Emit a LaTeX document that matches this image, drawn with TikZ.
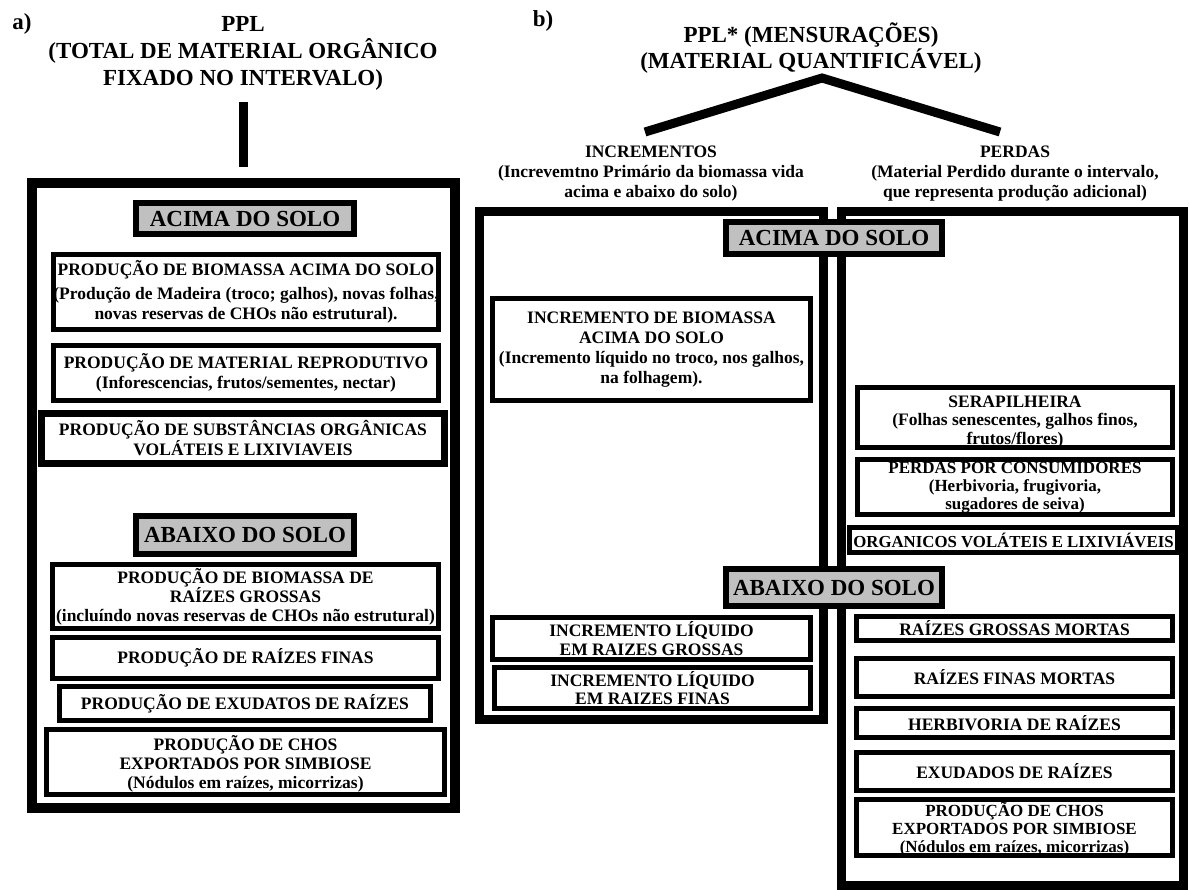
\documentclass[tikz,border=0pt]{standalone}
\usepackage{fontspec}
\setmainfont{Liberation Serif}
\definecolor{hdrgray}{RGB}{192,192,192}
\begin{document}
\begin{tikzpicture}[x=1pt,y=-1pt,
  every node/.style={inner sep=0pt, align=center, font=\bfseries\fontsize{17.5}{20}\selectfont},
  ibox/.style={draw=black, line width=5pt},
  tbox/.style={draw=black, line width=6.5pt},
  gbox/.style={draw=black, line width=6pt, fill=hdrgray, font=\bfseries\fontsize{23}{26}\selectfont},
  obox/.style={draw=black, line width=9pt},
  lobox/.style={draw=black, line width=10pt},
  title/.style={font=\bfseries\fontsize{23}{27}\selectfont},
  tight/.style={font=\bfseries\fontsize{17.5}{18.5}\selectfont},
  tighter/.style={font=\bfseries\fontsize{17}{18}\selectfont},
  bar/.style={line width=9pt}
]
\useasboundingbox (0,0) rectangle (1190,889);
\fill[white] (0,0) rectangle (1190,889);

% ---------- a) ----------
\node[title] (la) at (22,24) {a)};
\node[title] (ltitle) at (243,53) {PPL\\(TOTAL DE MATERIAL ORGÂNICO\\FIXADO NO INTERVALO)};
\coordinate (vt) at (243.5,102);
\coordinate (vb) at (243.5,167);
\draw[bar] (vt) -- (vb);
\node[lobox, minimum width=423pt, minimum height=625pt] (lout) at (243.5,495.5) {};
\node[gbox, minimum width=218pt, minimum height=31pt] (lac) at (245,218.5) {ACIMA DO SOLO};
\node[ibox, minimum width=385pt, minimum height=75pt] (b1) at (246,292) {PRODUÇÃO DE BIOMASSA ACIMA DO SOLO\\[4pt](Produção de Madeira (troco; galhos), novas folhas,\\novas reservas de CHOs não estrutural).};
\node[ibox, minimum width=385pt, minimum height=55pt] (b2) at (246,373) {PRODUÇÃO DE MATERIAL REPRODUTIVO\\(Inforescencias, frutos/sementes, nectar)};
\node[tbox, minimum width=403pt, minimum height=50pt] (b3) at (243,438.5) {PRODUÇÃO DE SUBSTÂNCIAS ORGÂNICAS\\VOLÁTEIS E LIXIVIAVEIS};
\node[gbox, minimum width=218pt, minimum height=38pt] (lab) at (245,535) {ABAIXO DO SOLO};
\node[ibox, tight, minimum width=386pt, minimum height=64pt] (b4) at (245.5,596.5) {PRODUÇÃO DE BIOMASSA DE\\RAÍZES GROSSAS\\(incluíndo novas reservas de CHOs não estrutural)};
\node[ibox, minimum width=386pt, minimum height=41pt] (b5) at (245.5,658) {PRODUÇÃO DE RAÍZES FINAS};
\node[ibox, minimum width=371pt, minimum height=34pt] (b6) at (245,703.5) {PRODUÇÃO DE EXUDATOS DE RAÍZES};
\node[ibox, minimum width=398pt, minimum height=65pt] (b7) at (245.5,762) {};
\node[font=\bfseries\fontsize{17.5}{19}\selectfont] (b7t) at (245.5,764) {PRODUÇÃO DE CHOS\\EXPORTADOS POR SIMBIOSE\\(Nódulos em raízes, micorrizas)};

% ---------- b) ----------
\node[title] (rb) at (543,21) {b)};
\node[title, font=\bfseries\fontsize{23}{26}\selectfont] (rtitle) at (811,48) {PPL* (MENSURAÇÕES)\\(MATERIAL QUANTIFICÁVEL)};
\coordinate (cl) at (645,132);
\coordinate (ca) at (822,78);
\coordinate (cr) at (1000,132);
\draw[line width=9pt, line join=miter] (cl) -- (ca) -- (cr);
\node (incl) at (651,174) {INCREMENTOS\\(Increvemtno Primário da biomassa vida\\acima e abaixo do solo)};
\node (perl) at (1015,174) {PERDAS\\(Material Perdido durante o intervalo,\\que representa produção adicional)};

\node[obox, minimum width=344pt, minimum height=508pt] (mout) at (651.5,465.5) {};
\node[obox, minimum width=342pt, minimum height=673.5pt] (rout) at (1012.5,548.25) {};
\node[gbox, minimum width=216pt, minimum height=32pt] (rac) at (834,238) {ACIMA DO SOLO};
\node[gbox, minimum width=216pt, minimum height=37pt] (rab) at (834,587.5) {ABAIXO DO SOLO};

\node[ibox, minimum width=318pt, minimum height=102pt] (m1) at (651.5,349.5) {INCREMENTO DE BIOMASSA\\ACIMA DO SOLO\\(Incremento líquido no troco, nos galhos,\\na folhagem).};
\node[ibox, tight, minimum width=318pt, minimum height=42pt] (m2) at (651.5,638.5) {INCREMENTO LÍQUIDO\\EM RAIZES GROSSAS};
\node[ibox, tight, minimum width=316pt, minimum height=41pt] (m3) at (652.5,688) {INCREMENTO LÍQUIDO\\EM RAIZES FINAS};

\node[ibox, minimum width=315pt, minimum height=60pt] (r1) at (1015,417.5) {};
\node[tight] (r1t) at (1015,422) {SERAPILHEIRA\\(Folhas senescentes, galhos finos,\\frutos/flores)};
\node[ibox, minimum width=315pt, minimum height=55pt] (r2) at (1015,487) {};
\node[tighter] (r2t) at (1015,488) {PERDAS POR CONSUMIDORES\\(Herbivoria, frugivoria,\\sugadores de seiva)};
\node[ibox, font=\bfseries\fontsize{16.8}{19}\selectfont, minimum width=328pt, minimum height=25pt] (r3) at (1013.5,540) {ORGANICOS VOLÁTEIS E LIXIVIÁVEIS};
\node[ibox, minimum width=316pt, minimum height=24pt] (r4) at (1014.5,628.5) {RAÍZES GROSSAS MORTAS};
\node[ibox, minimum width=316pt, minimum height=38pt] (r5) at (1014.5,677.5) {RAÍZES FINAS MORTAS};
\node[ibox, minimum width=316pt, minimum height=29pt] (r6) at (1014.5,723) {HERBIVORIA DE RAÍZES};
\node[ibox, minimum width=316pt, minimum height=38pt] (r7) at (1014.5,771.5) {EXUDADOS DE RAÍZES};
\node[ibox, minimum width=316pt, minimum height=56pt] (r8) at (1014.5,827.5) {};
\node[tighter] (r8t) at (1014.5,828.5) {PRODUÇÃO DE CHOS\\EXPORTADOS POR SIMBIOSE\\(Nódulos em raízes, micorrizas)};
\end{tikzpicture}
\end{document}
